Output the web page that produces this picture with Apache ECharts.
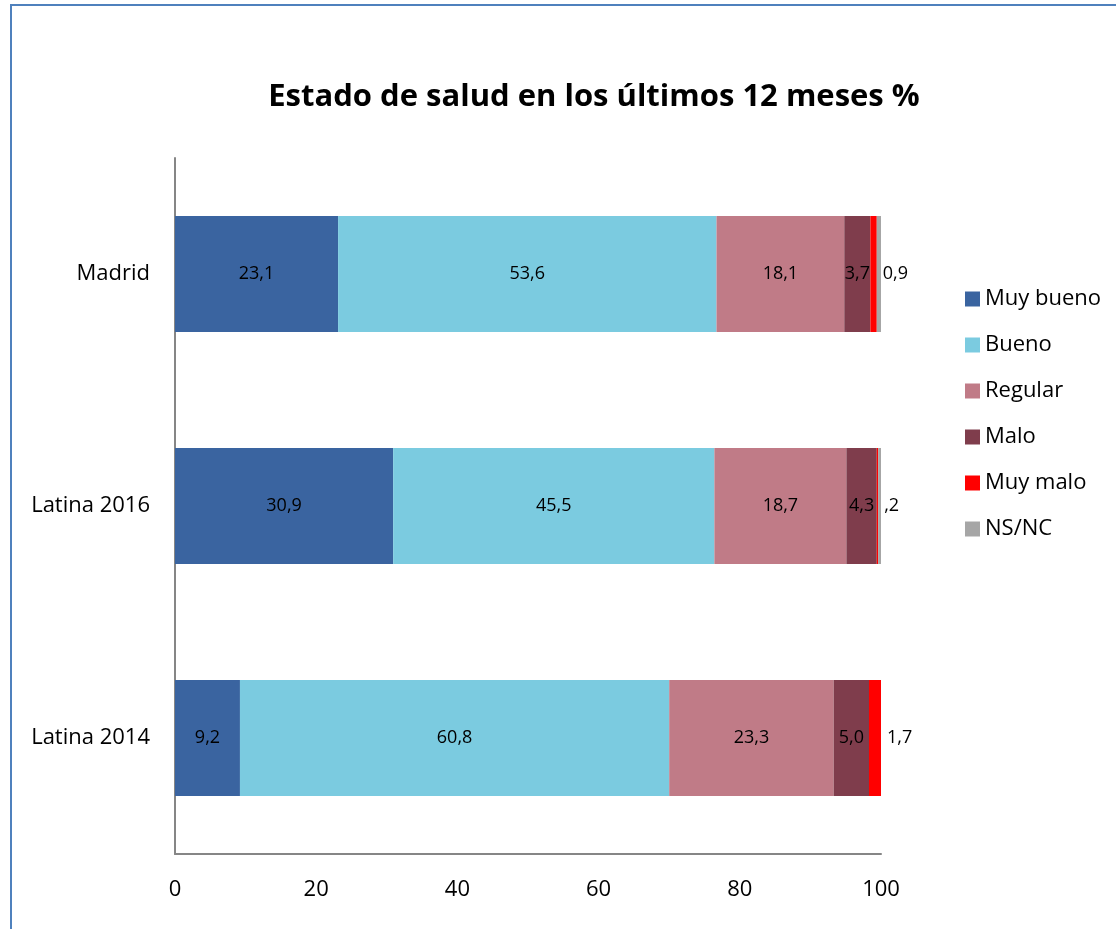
<!DOCTYPE html>
<html style="height: 100%">
<head>
<meta charset="utf-8">
<script type="text/javascript" src="https://cdn.jsdelivr.net/npm/echarts@6/dist/echarts.min.js"></script>
</head>
<body style="height: 100%; margin: 0; overflow: hidden">
<div id="container" style="width: 1116px; height: 929px"></div>
<script type="text/javascript">
var categories = ['Latina 2014', 'Latina 2016', 'Madrid'];
var seriesNames = ['Muy bueno', 'Bueno', 'Regular', 'Malo', 'Muy malo', 'NS/NC'];
var muyBueno = [9.2, 30.9, 23.1];
var bueno = [60.8, 45.5, 53.6];
var regular = [23.3, 18.7, 18.1];
var malo = [5.0, 4.3, 3.7];
var muyMalo = [1.7, 0.2, 0.9];
var nsnc = [0, 0.4, 0.6];
var muyMaloLabels = ['1,7', ',2', '0,9'];
var xTicks = [0, 20, 40, 60, 80, 100];

var colors = ['#3A64A0', '#7BCBE0', '#C07B87', '#7F3D4C', '#FF0000', '#A6A6A6'];
var values = [muyBueno, bueno, regular, malo, muyMalo, nsnc];
var font = '"Open Sans", sans-serif';

function fmt(v) {
    return v.toFixed(1).replace('.', ',');
}

var series = [];
for (var i = 0; i < seriesNames.length; i++) {
    var s = {
        name: seriesNames[i],
        type: 'bar',
        stack: 'total',
        barWidth: '50%',
        itemStyle: { color: colors[i] },
        data: values[i],
        label: {
            show: i < 4,
            position: 'inside',
            color: '#000',
            fontSize: 18,
            fontFamily: font,
            formatter: function (p) { return fmt(p.value); }
        }
    };
    if (i == 4) {
        s.label = {
            show: true,
            position: 'right',
            distance: 6,
            color: '#000',
            fontSize: 18,
            fontFamily: font,
            formatter: function (p) { return muyMaloLabels[p.dataIndex]; }
        };
    }
    series.push(s);
}

var myChart = echarts.init(document.getElementById('container'));
var option = {
    animation: false,
    backgroundColor: '#fff',
    title: {
        text: 'Estado de salud en los últimos 12 meses %',
        left: 589,
        top: 77,
        textAlign: 'center',
        textStyle: { fontSize: 31, fontWeight: 'bold', color: '#000', fontFamily: font }
    },
    graphic: [{
        type: 'rect',
        shape: { x: 11, y: 5, width: 1200, height: 1000 },
        style: { fill: 'none', stroke: '#4F81BD', lineWidth: 2 }
    }],
    legend: {
        orient: 'vertical',
        left: 960,
        top: 283,
        itemWidth: 15,
        itemHeight: 15,
        itemGap: 24,
        icon: 'rect',
        data: seriesNames,
        textStyle: { fontSize: 22, color: '#000', fontFamily: font }
    },
    grid: { left: 175, right: 235, top: 158, bottom: 75 },
    xAxis: {
        type: 'value',
        min: 0,
        max: 100,
        interval: 20,
        splitLine: { show: false },
        axisLine: { show: true, lineStyle: { color: '#868686', width: 2 } },
        axisTick: { show: false },
        axisLabel: {
            fontSize: 22, color: '#000', fontFamily: font, margin: 25,
            formatter: function (v) { return xTicks.indexOf(v) >= 0 ? String(v) : ''; }
        }
    },
    yAxis: {
        type: 'category',
        data: categories,
        axisLine: { show: true, lineStyle: { color: '#868686', width: 2 } },
        axisTick: { show: false },
        axisLabel: { fontSize: 22, color: '#000', fontFamily: font, margin: 25 }
    },
    series: series
};
myChart.setOption(option);
</script>
</body>
</html>
